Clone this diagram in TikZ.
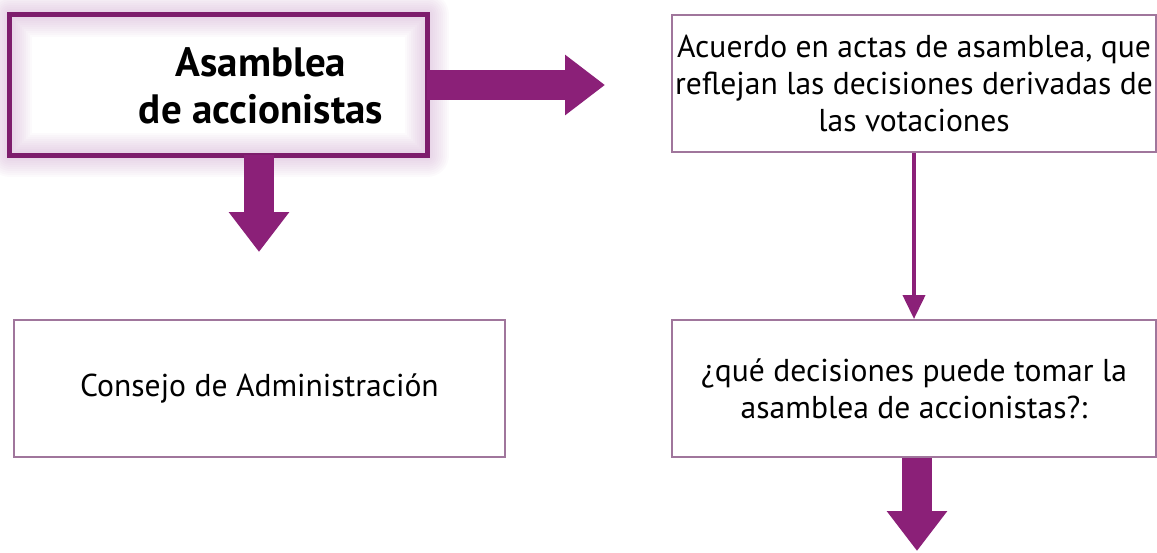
\documentclass[tikz,border=0pt]{standalone}
\usepackage{fontspec}
\setmainfont{PT Sans}
\usetikzlibrary{arrows.meta}
\definecolor{morado}{RGB}{139,32,120}
\definecolor{borde}{RGB}{160,118,156}
\definecolor{halo}{RGB}{190,140,190}
\begin{document}
\begin{tikzpicture}[x=0.5pt,y=-0.5pt,
	caja/.style={draw=borde,line width=1pt,minimum width=#1,minimum height=68.5pt,inner sep=0pt,align=center,font=\fontsize{15.8}{18.5}\selectfont},
	flecha/.style={draw=morado,line width=15pt,-{Triangle[width=29pt,length=20pt]}},
	fina/.style={draw=morado,line width=2pt,-{Triangle[width=11pt,length=12pt]}}]
\useasboundingbox (0,0) rectangle (1157,552);
% caja principal con brillo
\node[minimum width=208.5pt,minimum height=70pt,inner sep=0pt] (asamblea) at (218.5,85) {};
\foreach \w in {2,4,...,22} {
	\draw[halo,line width=\w pt,opacity=0.045,line join=round] (asamblea.north west) rectangle (asamblea.south east);
}
\draw[morado!90!black,line width=2.5pt] (asamblea.north west) rectangle (asamblea.south east);
\node[align=center,font=\fontsize{20.5}{23.5}\selectfont\bfseries] (titulo) at (261,86) {Asamblea\\de accionistas};
% cajas
\node[caja=242pt] (acuerdo) at (914,83.5) {Acuerdo en actas de asamblea, que\\reflejan las decisiones derivadas de\\las votaciones};
\node[caja=245.5pt] (consejo) at (259.5,388.5) {Consejo de Administración};
\node[caja=242pt] (pregunta) at (914,388.5) {¿qué decisiones puede tomar la\\asamblea de accionistas?:};
% flechas
\coordinate (a1) at (605,85);
\coordinate (a2) at (259,252);
\coordinate (a3) at (917,551);
\draw[flecha] (asamblea.east) -- (a1);
\draw[flecha] (asamblea.south -| a2) -- (a2);
\draw[fina] (acuerdo.south) -- (pregunta.north);
\draw[flecha] (pregunta.south -| a3) -- (a3);
\end{tikzpicture}
\end{document}
